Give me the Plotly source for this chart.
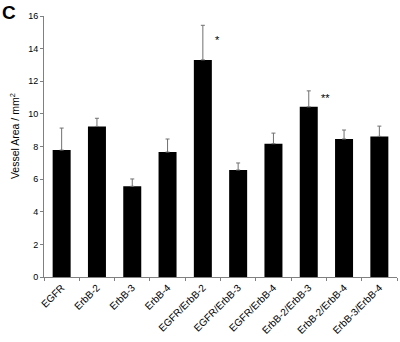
import plotly.graph_objects as go

categories = ["EGFR", "ErbB-2", "ErbB-3", "ErbB-4", "EGFR/ErbB-2", "EGFR/ErbB-3",
              "EGFR/ErbB-4", "ErbB-2/ErbB-3", "ErbB-2/ErbB-4", "ErbB-3/ErbB-4"]
vessel_area = [7.78, 9.23, 5.56, 7.66, 13.31, 6.56, 8.17, 10.43, 8.46, 8.62]
error_up = [1.35, 0.5, 0.45, 0.8, 2.12, 0.43, 0.65, 0.98, 0.55, 0.63]
y_ticks = [0, 2, 4, 6, 8, 10, 12, 14, 16]
significance = [("EGFR/ErbB-2", 14.5, "*"), ("ErbB-2/ErbB-3", 10.95, "**")]

FONT = "Liberation Sans, Arial, sans-serif"

fig = go.Figure()
fig.add_trace(go.Bar(
    x=categories, y=vessel_area,
    marker=dict(color="black", line=dict(width=0)),
    error_y=dict(type="data", array=error_up, arrayminus=[0] * len(error_up),
                 symmetric=False, color="#707070", thickness=1, width=2),
))

for cat, yv, txt in significance:
    fig.add_annotation(x=cat, y=yv, text=txt, showarrow=False, xshift=10,
                       xanchor="left", font=dict(family=FONT, size=11, color="black"))

fig.add_annotation(xref="paper", yref="paper", x=-0.125, y=1.06, text="<b>C</b>",
                   showarrow=False, xanchor="left", yanchor="top",
                   font=dict(family=FONT, size=19, color="black"))

fig.add_annotation(xref="paper", yref="paper", x=-0.085, y=0.54, text="Vessel Area / mm<sup>2</sup>",
                   showarrow=False, textangle=-90, xanchor="center", yanchor="middle",
                   font=dict(family=FONT, size=10.5, color="black"))

fig.update_layout(
    width=400, height=342,
    margin=dict(l=44, r=3, t=16, b=64.5, pad=0),
    paper_bgcolor="white", plot_bgcolor="white",
    showlegend=False, bargap=0.49,
    font=dict(family=FONT, color="black"),
)
fig.update_xaxes(
    type="category", tickangle=-45, tickfont=dict(family=FONT, size=10, color="black"),
    showline=True, linecolor="#808080", linewidth=1,
    ticks="outside", tickson="boundaries", ticklen=3, tickcolor="#808080",
    showgrid=False, zeroline=False,
)
fig.update_yaxes(
    range=[0, 16], tickvals=y_ticks, tickfont=dict(family=FONT, size=9, color="black"),
    showline=True, linecolor="#808080", linewidth=1,
    ticks="outside", ticklen=3, tickcolor="#808080",
    showgrid=False, zeroline=False,
)

fig.write_html("out.html", config={"displayModeBar": False},
               post_script="document.body.style.margin='0px';document.body.style.padding='0px';")
